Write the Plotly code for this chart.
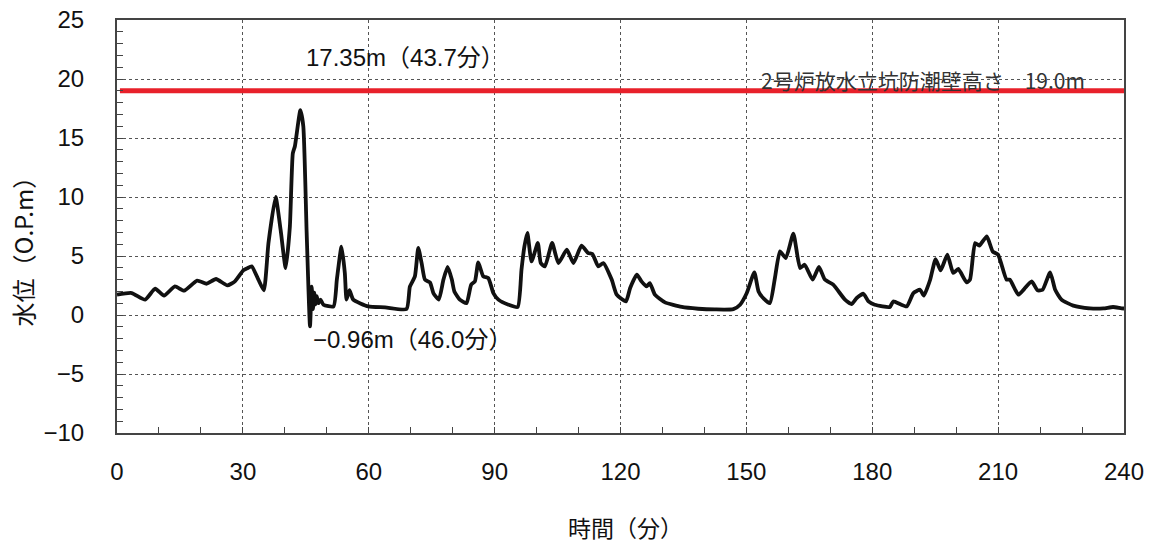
import plotly.graph_objects as go

# time (min) and water level (O.P.m)
time_min = [0, 3.5, 6.7, 9.1, 11.2, 13.8, 16.0, 19.1, 21.4, 23.6, 26.3, 28.1, 30.1, 31.0, 32.1, 33.7, 35.0,
            36.1, 37.8, 39.0, 40.2, 41.2, 41.9, 42.4, 43.7, 44.4, 45.2, 46.0, 46.4, 46.7, 47.0, 47.3, 47.6,
            48.0, 48.5, 49.2, 51.6, 52.4, 53.5, 54.3, 54.7, 55.4, 56.3, 59.9, 63.9, 69.0, 69.8, 71.0,
            71.8, 72.6, 73.4, 74.6, 75.4, 76.7, 77.8, 78.8, 79.8, 80.4, 81.7, 83.3, 84.4, 85.3, 86.1,
            87.3, 88.5, 89.7, 90.9, 93.3, 95.5, 96.4, 97.1, 97.8, 98.8, 100.3, 101.0, 102.0, 103.7,
            105.2, 107.2, 108.8, 110.7, 112.3, 113.3, 114.7, 115.9, 117.9, 119.1, 121.3, 122.3, 123.9,
            125.0, 126.2, 127.0, 128.2, 130.6, 134.6, 138.5, 142.5, 146.9, 148.5, 150.1, 151.9, 152.9,
            154.0, 155.6, 156.8, 158.0, 159.4, 161.2, 162.8, 163.9, 165.8, 167.3, 168.7, 170.7, 173.5,
            175.1, 176.3, 177.9, 179.1, 180.6, 184.2, 185.0, 188.2, 189.8, 191.4, 192.3, 193.8, 195.1,
            196.3, 197.9, 199.3, 200.5, 202.5, 203.3, 204.5, 205.5, 207.3, 208.7, 210.0, 212.0, 212.8,
            214.8, 216.2, 218.0, 219.4, 220.6, 222.4, 223.6, 225.1, 227.9, 231.9, 235.1, 237.4, 239.4, 240]
level_m = [1.72, 1.86, 1.30, 2.23, 1.64, 2.42, 2.06, 2.91, 2.65, 3.05, 2.51, 2.85, 3.78, 3.95, 4.12, 2.99, 2.09,
           6.1, 10.0, 7.2, 3.98, 7.5, 13.7, 14.3, 17.35, 16.0, 7.0, -0.96, 2.4, 0.5, 1.9, 0.9, 1.6,
           1.0, 1.3, 0.87, 0.73, 3.0, 5.8, 3.56, 1.3, 2.1, 1.3, 0.73, 0.65, 0.5, 2.4, 3.27,
           5.68, 4.4, 2.99, 2.76, 1.86, 1.3, 3.0, 4.07, 3.0, 2.0, 1.3, 1.0, 2.57, 2.85, 4.46,
           3.27, 3.13, 1.86, 1.3, 0.87, 0.68, 3.84, 5.81, 6.95, 4.54, 6.1, 4.4, 4.12, 6.1,
           4.4, 5.53, 4.4, 5.87, 5.25, 5.17, 4.12, 4.4, 3.0, 1.72, 1.15, 2.29, 3.42,
           2.85, 2.42, 2.71, 1.72, 1.07, 0.68, 0.53, 0.47, 0.5, 0.87, 1.86, 3.61, 2.0,
           1.44, 1.0, 3.13, 5.39, 4.83, 6.89, 3.98, 4.26, 3.0, 4.07, 3.0, 2.57, 1.3,
           0.93, 1.44, 1.8, 1.15, 0.87, 0.68, 1.15, 0.73, 1.86, 2.14, 1.64, 2.99, 4.74,
           3.78, 5.11, 3.56, 3.9, 2.76, 3.0, 6.1, 5.87, 6.66, 5.39, 5.11, 3.0, 3.0,
           1.72, 2.2, 2.85, 2.09, 2.14, 3.61, 2.14, 1.3, 0.79, 0.56, 0.56, 0.68, 0.56, 0.55]

wall_time = [0.7, 240]
wall_height = [19.0, 19.0]

x_ticks = [0, 30, 60, 90, 120, 150, 180, 210, 240]
y_ticks = [-10, -5, 0, 5, 10, 15, 20, 25]

max_label = "17.35m（43.7分）"
min_label = "−0.96m（46.0分）"
wall_label = "2号炉放水立坑防潮壁高さ　19.0m"
x_title = "時間（分）"
y_title = "水位（O.P.m）"

SANS = "Liberation Sans, Noto Sans CJK JP"
CJK = "Noto Sans CJK JP"

fig = go.Figure()
fig.add_trace(go.Scatter(x=time_min, y=level_m, mode="lines",
                         line=dict(color="#111111", width=3.8, shape="spline", smoothing=0.5),
                         showlegend=False))
fig.add_trace(go.Scatter(x=wall_time, y=wall_height, mode="lines",
                         line=dict(color="#e8202a", width=5), showlegend=False))

axis_common = dict(showline=True, mirror=True, linecolor="#444444", linewidth=2,
                   showgrid=True, gridcolor="#555555", gridwidth=1, griddash="dot",
                   zeroline=False, ticks="inside", ticklen=6, tickcolor="#444444", automargin=False,
                   tickfont=dict(family=SANS, size=24, color="#111111"))

fig.update_xaxes(range=[0, 240], tickvals=x_ticks, ticklabelstandoff=16,
                 minor=dict(dtick=10, ticks="inside", ticklen=6, tickcolor="#444444", showgrid=False),
                 **axis_common)
fig.update_yaxes(range=[-10, 25], tickvals=y_ticks, ticklabelstandoff=26,
                 minor=dict(dtick=1, ticks="inside", ticklen=6, tickcolor="#444444", showgrid=False),
                 **axis_common)

fig.add_annotation(x=44.6, y=21.8, text=max_label, showarrow=False, xanchor="left", yanchor="middle",
                   font=dict(family=SANS, size=24, color="#111111"))
fig.add_annotation(x=46.3, y=-2.1, text=min_label, showarrow=False, xanchor="left", yanchor="middle",
                   font=dict(family=SANS, size=24, color="#111111"))
fig.add_annotation(x=231.2, y=19.9, text=wall_label, showarrow=False, xanchor="right", yanchor="middle",
                   font=dict(family=CJK, size=21, color="#333333"))

fig.add_annotation(xref="paper", yref="paper", x=0.505, y=-0.228, text=x_title, showarrow=False,
                   xanchor="center", yanchor="middle", font=dict(family=CJK, size=23, color="#111111"))
fig.add_annotation(xref="paper", yref="paper", x=-0.094, y=0.455, text=y_title, showarrow=False,
                   textangle=-90, xanchor="center", yanchor="middle",
                   font=dict(family=CJK, size=24, color="#111111"))

fig.update_layout(width=1152, height=549, margin=dict(l=117, r=28, t=20, b=116, autoexpand=False),
                  plot_bgcolor="white", paper_bgcolor="white")

fig.write_html("out.html", config={"displayModeBar": False},
               post_script="document.body.style.margin='0';")
